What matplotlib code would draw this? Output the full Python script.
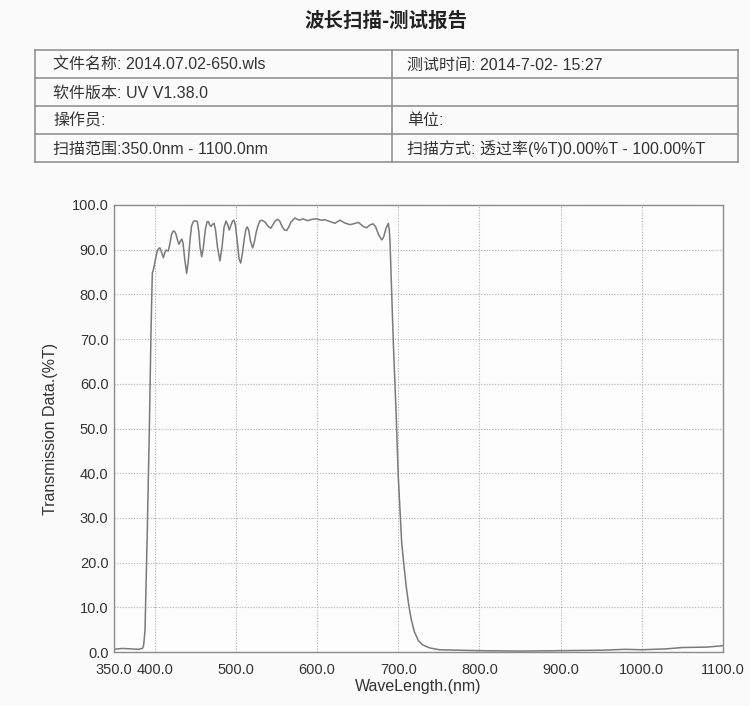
import matplotlib
matplotlib.use("Agg")
import matplotlib.pyplot as plt
from matplotlib.lines import Line2D

plt.rcParams['font.family'] = ['Liberation Sans', 'Noto Sans CJK SC', 'DejaVu Sans']

# ---- data ----
wavelength = [350, 360, 370, 380, 385, 386.5, 388.2, 391, 393.5, 395.6, 397.2, 398.5,
              400.5, 403, 405, 406.6, 408.5, 410.7, 412.5, 414, 416.9, 419, 421, 423,
              425, 426.4, 428.5, 430, 431.5, 433.4, 435, 437, 439.5, 441.5, 443.5, 445.5,
              447.7, 450, 452.6, 454.5, 456, 458, 460, 462.5, 464.5, 466.1, 468, 469.5,
              471.5, 473.2, 475, 477.5, 480.5, 483, 485.5, 487.9, 490, 492, 494, 496,
              497.8, 499.5, 502, 504, 506, 508, 510.5, 512.5, 514.2, 516, 518, 520.8,
              523, 525, 527, 529.5, 531.9, 534, 536, 540, 543, 545.5, 548.3, 551.6,
              554, 557, 560, 562.7, 565, 568, 572.9, 578, 583, 588, 594, 599.6,
              605, 610, 616, 622, 628.3, 634, 640.6, 645, 651, 657, 661, 665,
              669, 672, 676, 679.7, 682, 685, 687.8, 689, 690, 692, 694, 697.3,
              700.1, 704.3, 707, 710, 713, 716, 720, 725, 730, 739, 751, 800,
              850, 900, 950, 980, 1000, 1030, 1050, 1080, 1100]
transmission = [0.6, 0.8, 0.7, 0.6, 0.8, 1.5, 4.9, 27, 49.7, 72, 84.8, 85.5,
                87.3, 89.5, 90.3, 90.4, 89.5, 88.2, 89.3, 89.9, 89.7, 91.5, 93.5, 94.2,
                94.0, 93.4, 92.0, 91.2, 91.8, 92.4, 91.5, 88.0, 84.7, 87.5, 92.0, 95.3,
                96.3, 96.5, 96.3, 94.0, 90.5, 88.4, 90.5, 94.5, 96.2, 96.3, 95.5, 95.2,
                95.7, 95.9, 94.5, 90.5, 87.5, 90.5, 95.0, 96.4, 95.6, 94.4, 95.5, 96.4,
                96.6, 95.5, 91.5, 88.0, 87.0, 89.0, 92.5, 94.6, 95.1, 94.3, 92.0, 90.4,
                91.8, 93.8, 95.2, 96.4, 96.6, 96.4, 96.2, 95.2, 94.8, 95.5, 96.4, 96.8,
                96.4, 95.2, 94.4, 94.3, 95.0, 96.2, 97.1, 96.6, 96.9, 96.5, 96.8, 96.9,
                96.6, 96.7, 96.3, 95.9, 96.6, 96.0, 95.6, 95.8, 96.1, 95.2, 94.9, 95.5,
                95.8, 95.2, 93.3, 92.2, 92.8, 94.8, 95.9, 94.5, 91.4, 80.3, 69.1, 54.1,
                39.2, 24.4, 19.5, 14.5, 10.5, 7.3, 4.5, 2.5, 1.6, 0.9, 0.5, 0.3,
                0.2, 0.3, 0.4, 0.6, 0.5, 0.7, 1.0, 1.1, 1.4]

x_ticks = [350, 400, 500, 600, 700, 800, 900, 1000, 1100]
y_ticks = [0, 10, 20, 30, 40, 50, 60, 70, 80, 90, 100]

title = "波长扫描-测试报告"
left_cells = ["文件名称: 2014.07.02-650.wls", "软件版本: UV V1.38.0", "操作员:",
              "扫描范围:350.0nm - 1100.0nm"]
right_cells = ["测试时间: 2014-7-02- 15:27", "", "单位:",
               "扫描方式: 透过率(%T)0.00%T - 100.00%T"]

W, H = 750, 706
fig = plt.figure(figsize=(W / 100, H / 100), dpi=100)
fig.patch.set_facecolor('#fbfbfb')

def fx(px):
    return px / W

def fy(py):
    return 1 - py / H

txt = '#333333'
cjk = ['Noto Sans CJK SC', 'DejaVu Sans']
mixed = ['Liberation Sans', 'Noto Sans CJK SC', 'DejaVu Sans']

fig.text(fx(386), fy(21), title, ha='center', va='center', fontsize=14,
         family=cjk, color='#222222', weight='bold')

# table
tl, tr, tdiv = 35, 738, 392
rows = [50, 78, 106, 134, 162]
lc = '#8a8a8a'
for r in rows:
    fig.add_artist(Line2D([fx(tl), fx(tr)], [fy(r), fy(r)], color=lc, lw=1.1))
for c in (tl, tr, tdiv):
    fig.add_artist(Line2D([fx(c), fx(c)], [fy(rows[0]), fy(rows[-1])], color=lc, lw=1.1))
for i in range(4):
    yc = (rows[i] + rows[i + 1]) / 2 + 1
    fig.text(fx(53), fy(yc), left_cells[i], ha='left', va='center', fontsize=11.5,
             family=mixed, color=txt)
    if right_cells[i]:
        fig.text(fx(407), fy(yc), right_cells[i], ha='left', va='center', fontsize=11.5,
                 family=mixed, color=txt)

# chart
ax = fig.add_axes([fx(114), fy(652), fx(723) - fx(114), (652 - 205) / H])
ax.set_facecolor('#fdfdfd')
ax.plot(wavelength, transmission, color='#7a7a7a', lw=1.1)
ax.set_xlim(350, 1100)
ax.set_ylim(0, 100)
ax.set_xticks(x_ticks)
ax.set_xticklabels([f"{v:.1f}" for v in x_ticks])
ax.set_yticks(y_ticks)
ax.set_yticklabels([f"{v:.1f}" for v in y_ticks])
ax.tick_params(length=0, labelsize=10.5, labelcolor='#333333')
ax.tick_params(axis='x', pad=8)
ax.tick_params(axis='y', pad=4)
ax.grid(True, color='#b0b0b0', lw=0.8, linestyle=(0, (1, 1.5)))
for s in ax.spines.values():
    s.set_color('#8c8c8c')
    s.set_linewidth(1.0)
ax.set_xlabel("WaveLength.(nm)", fontsize=11.5, color='#333333', labelpad=1)
ax.set_ylabel("Transmission Data.(%T)", fontsize=11.5, color='#333333', labelpad=10)

fig.savefig('out.png', dpi=100, facecolor=fig.get_facecolor())
